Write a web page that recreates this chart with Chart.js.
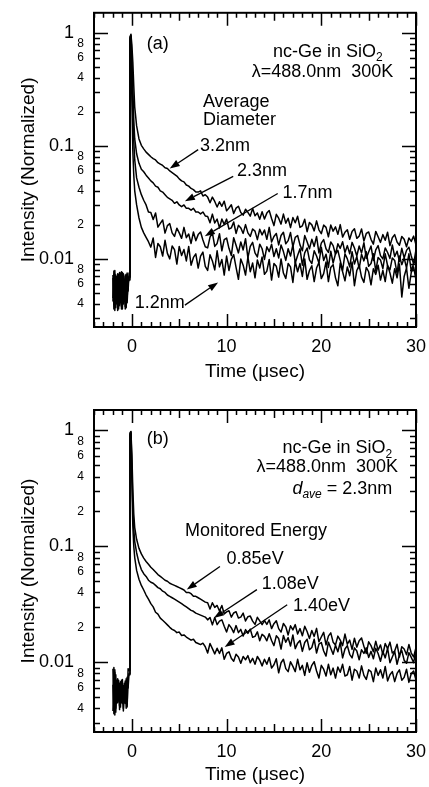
<!DOCTYPE html>
<html>
<head>
<meta charset="utf-8">
<title>nc-Ge in SiO2 PL decay</title>
<script src="https://cdn.jsdelivr.net/npm/chart.js@4.4.1/dist/chart.umd.min.js"></script>
<style>
  html, body { margin: 0; padding: 0; background: #fff; }
  #wrap { position: relative; width: 429px; height: 787px; }
  canvas { position: absolute; left: 0; }
  #chart-a { top: 0; }
  #chart-b { top: 395px; }
</style>
</head>
<body>
<div id="wrap">
  <canvas id="chart-a" width="429" height="395"></canvas>
  <canvas id="chart-b" width="429" height="392"></canvas>
</div>
<script>
// Time-resolved PL of nc-Ge in SiO2: (a) by average diameter, (b) by monitored energy

const FONT = '"Liberation Sans", Arial, Helvetica, sans-serif';

// ---------- data ----------
const TIMES = [
  -2, -1.9, -1.8, -1.7, -1.6, -1.5, -1.4, -1.3, -1.2, -1.1, -1, -0.9, -0.8, -0.7, -0.6, -0.5, -0.4,
  -0.3, -0.2, -0.1, 0, 0.1, 0.2, 0.3, 0.5, 0.75,
  1, 1.25, 1.5, 1.75, 2, 2.25, 2.5, 2.75, 3, 3.25, 3.5, 3.75, 4, 4.25, 4.5, 4.75,
  5, 5.25, 5.5, 5.75, 6, 6.25, 6.5, 6.75, 7, 7.25, 7.5, 7.75, 8, 8.25, 8.5, 8.75,
  9, 9.25, 9.5, 9.75, 10, 10.25, 10.5, 10.75, 11, 11.25, 11.5, 11.75, 12, 12.25, 12.5, 12.75,
  13, 13.25, 13.5, 13.75, 14, 14.25, 14.5, 14.75, 15, 15.25, 15.5, 15.75, 16, 16.25, 16.5, 16.75,
  17, 17.25, 17.5, 17.75, 18, 18.25, 18.5, 18.75, 19, 19.25, 19.5, 19.75, 20, 20.25, 20.5, 20.75,
  21, 21.25, 21.5, 21.75, 22, 22.25, 22.5, 22.75, 23, 23.25, 23.5, 23.75, 24, 24.25, 24.5, 24.75,
  25, 25.25, 25.5, 25.75, 26, 26.25, 26.5, 26.75, 27, 27.25, 27.5, 27.75, 28, 28.25, 28.5, 28.75,
  29, 29.25, 29.5, 29.75, 30
];

// panel (a): average diameter
const DIA_32 = [
  0.0042, 0.0071, 0.0038, 0.0066, 0.0045, 0.0074, 0.0036, 0.0069, 0.0041, 0.0077, 0.0039, 0.0063, 0.0047, 0.0072, 0.0037, 0.0068, 0.0052,
  0.0075, 0.92, 0.97, 0.78, 0.55, 0.34, 0.22, 0.15, 0.115,
  0.101, 0.094, 0.088, 0.084, 0.080, 0.077, 0.075, 0.071, 0.069, 0.067, 0.064, 0.063, 0.060, 0.058, 0.056, 0.054,
  0.051, 0.049, 0.048, 0.045, 0.044, 0.042, 0.041, 0.039, 0.039, 0.040, 0.036, 0.037,
  0.0352, 0.0314, 0.0352, 0.0322, 0.0288, 0.0320, 0.0292, 0.0324, 0.0266, 0.0282, 0.0301, 0.0252,
  0.0281, 0.0292, 0.0257, 0.0244, 0.0275, 0.0258, 0.0239, 0.0279, 0.0241, 0.0255, 0.0224, 0.0261,
  0.0225, 0.0254, 0.0268, 0.0228, 0.0197, 0.0248, 0.0229, 0.0203, 0.0249, 0.0207, 0.0229, 0.0189,
  0.0232, 0.0209, 0.0238, 0.0190, 0.0196, 0.0224, 0.0174, 0.0210, 0.0200, 0.0177, 0.0217, 0.0181,
  0.0167, 0.0199, 0.0190, 0.0157, 0.0199, 0.0176, 0.0192, 0.0165, 0.0201, 0.0156, 0.0172, 0.0181,
  0.0149, 0.0175, 0.0185, 0.0152, 0.0159, 0.0184, 0.0144, 0.0168, 0.0173, 0.0149, 0.0135, 0.0175,
  0.0157, 0.0140, 0.0164, 0.0146, 0.0172, 0.0131, 0.0154, 0.0164, 0.0141, 0.0132, 0.0158, 0.0149,
  0.0128, 0.0153, 0.0143, 0.0159, 0.0133
];
const DIA_23 = [
  0.0068, 0.0040, 0.0073, 0.0037, 0.0070, 0.0043, 0.0065, 0.0039, 0.0075, 0.0036, 0.0070, 0.0044, 0.0066, 0.0038, 0.0073, 0.0041, 0.0062,
  0.0070, 0.90, 0.95, 0.60, 0.33, 0.17, 0.115, 0.085, 0.070,
  0.062, 0.059, 0.055, 0.052, 0.049, 0.047, 0.044, 0.043, 0.040, 0.039, 0.037, 0.035, 0.034, 0.033, 0.031, 0.032,
  0.030, 0.029, 0.030, 0.028, 0.028, 0.027, 0.028, 0.026, 0.026, 0.025, 0.026, 0.024,
  0.0237, 0.0209, 0.0249, 0.0208, 0.0225, 0.0188, 0.0225, 0.0202, 0.0225, 0.0184, 0.0188, 0.0212,
  0.0168, 0.0198, 0.0188, 0.0168, 0.0201, 0.0170, 0.0158, 0.0184, 0.0176, 0.0148, 0.0183, 0.0163,
  0.0180, 0.0149, 0.0190, 0.0141, 0.0158, 0.0168, 0.0133, 0.0161, 0.0172, 0.0136, 0.0145, 0.0171,
  0.0128, 0.0155, 0.0161, 0.0133, 0.0118, 0.0161, 0.0142, 0.0123, 0.0149, 0.0129, 0.0158, 0.0113,
  0.0138, 0.0148, 0.0123, 0.0114, 0.0141, 0.0131, 0.0110, 0.0136, 0.0124, 0.0142, 0.0114, 0.0131,
  0.0111, 0.0140, 0.0125, 0.0106, 0.0130, 0.0113, 0.0139, 0.0101, 0.0115, 0.0130, 0.0097, 0.0120,
  0.0131, 0.0107, 0.0100, 0.0125, 0.0114, 0.0101, 0.0133, 0.0105, 0.0117, 0.0095, 0.0124, 0.0102,
  0.0119, 0.0127, 0.0106, 0.0090, 0.0121
];
const DIA_17 = [
  0.0045, 0.0078, 0.0035, 0.0072, 0.0040, 0.0068, 0.0038, 0.0076, 0.0043, 0.0065, 0.0036, 0.0074, 0.0042, 0.0070, 0.0039, 0.0075, 0.0060,
  0.0068, 0.88, 0.93, 0.45, 0.20, 0.11, 0.075, 0.052, 0.043,
  0.037, 0.033, 0.030, 0.026, 0.0257, 0.0223, 0.0255, 0.0191, 0.0206, 0.0221, 0.0169, 0.0197,
  0.0205, 0.0170, 0.0158, 0.0187, 0.0170, 0.0152, 0.0190, 0.0154, 0.0166, 0.0137, 0.0173, 0.0145,
  0.0164, 0.0173, 0.0147, 0.0128,
  0.0125, 0.0156, 0.0170, 0.0129, 0.0137, 0.0167, 0.0118, 0.0148, 0.0153, 0.0124, 0.0107, 0.0154,
  0.0132, 0.0113, 0.0141, 0.0120, 0.0151, 0.0102, 0.0129, 0.0140, 0.0113, 0.0104, 0.0135, 0.0123,
  0.0099, 0.0128, 0.0116, 0.0135, 0.0105, 0.0123, 0.0102, 0.0133, 0.0116, 0.0097, 0.0123, 0.0106,
  0.0133, 0.0092, 0.0107, 0.0123, 0.0088, 0.0113, 0.0125, 0.0098, 0.0091, 0.0118, 0.0106, 0.0092,
  0.0127, 0.0097, 0.0110, 0.0084, 0.0117, 0.0092, 0.0111, 0.0119, 0.0097, 0.0079, 0.0111, 0.0100,
  0.0085, 0.0116, 0.0090, 0.0105, 0.0082, 0.0110, 0.0096, 0.0116, 0.0086, 0.0091, 0.0111, 0.0078,
  0.0103, 0.0098, 0.0082, 0.0111, 0.0087, 0.0080, 0.0102, 0.0097, 0.0075, 0.0106, 0.0089, 0.0102,
  0.0083, 0.0111, 0.0078, 0.0091, 0.0099
];
const DIA_12 = [
  0.0072, 0.0036, 0.0079, 0.0041, 0.0067, 0.0035, 0.0073, 0.0044, 0.0069, 0.0038, 0.0076, 0.0040, 0.0064, 0.0036, 0.0071, 0.0045, 0.0066,
  0.0065, 0.85, 0.90, 0.25, 0.09, 0.055, 0.040, 0.030, 0.023,
  0.019, 0.017, 0.0155, 0.0142, 0.0127, 0.0153, 0.0103, 0.0137, 0.0128, 0.0106, 0.0146, 0.0112,
  0.0100, 0.0130, 0.0121, 0.0090, 0.0129, 0.0107, 0.0121, 0.0096, 0.0129, 0.0088, 0.0103, 0.0111,
  0.0083, 0.0106, 0.0115, 0.0086,
  0.0079, 0.0109, 0.0096, 0.0080, 0.0118, 0.0085, 0.0099, 0.0072, 0.0106, 0.0079, 0.0099, 0.0109,
  0.0084, 0.0066, 0.0100, 0.0088, 0.0072, 0.0104, 0.0077, 0.0092, 0.0068, 0.0098, 0.0083, 0.0104,
  0.0073, 0.0078, 0.0099, 0.0065, 0.0091, 0.0086, 0.0069, 0.0100, 0.0075, 0.0067, 0.0091, 0.0085,
  0.0062, 0.0095, 0.0077, 0.0091, 0.0070, 0.0100, 0.0066, 0.0079, 0.0087, 0.0063, 0.0083, 0.0093,
  0.0067, 0.0074, 0.0094, 0.0063, 0.0084, 0.0089, 0.0068, 0.0058, 0.0092, 0.0077, 0.0064, 0.0085,
  0.0071, 0.0094, 0.0058, 0.0079, 0.0088, 0.0069, 0.0062, 0.0084, 0.0077, 0.0059, 0.0082, 0.0073,
  0.0088, 0.0065, 0.0079, 0.0063, 0.0088, 0.0075, 0.0061, 0.0082, 0.0068, 0.0090, 0.0046, 0.0070,
  0.0083, 0.0055, 0.0076, 0.0085, 0.0065
];

// panel (b): monitored energy, d_ave = 2.3 nm
const EN_085 = [
  0.0088, 0.0036, 0.0082, 0.0040, 0.0070, 0.0045, 0.0064, 0.0042, 0.0068, 0.0048, 0.0061, 0.0040, 0.0066, 0.0046, 0.0072, 0.0043, 0.0088,
  0.0085, 0.95, 0.98, 0.62, 0.31, 0.19, 0.145, 0.115, 0.096,
  0.086, 0.079, 0.074, 0.070, 0.066, 0.063, 0.060, 0.057, 0.055, 0.053, 0.051, 0.050, 0.048, 0.047, 0.046, 0.045,
  0.044, 0.043, 0.042, 0.040, 0.040, 0.039, 0.037, 0.037, 0.036, 0.035, 0.034, 0.033,
  0.0326, 0.0288, 0.0326, 0.0297, 0.0309, 0.0277, 0.0309, 0.0261, 0.0272, 0.0278, 0.0245, 0.0266,
  0.0273, 0.0241, 0.0245, 0.0265, 0.0227, 0.0247, 0.0250, 0.0226, 0.0212, 0.0244, 0.0227, 0.0211,
  0.0229, 0.0212, 0.0232, 0.0195, 0.0215, 0.0228, 0.0195, 0.0182, 0.0216, 0.0202, 0.0172, 0.0206,
  0.0190, 0.0211, 0.0175, 0.0195, 0.0169, 0.0204, 0.0184, 0.0160, 0.0188, 0.0167, 0.0196, 0.0150,
  0.0165, 0.0181, 0.0141, 0.0168, 0.0179, 0.0149, 0.0141, 0.0168, 0.0155, 0.0139, 0.0175, 0.0143,
  0.0155, 0.0129, 0.0161, 0.0135, 0.0153, 0.0162, 0.0137, 0.0119, 0.0150, 0.0139, 0.0123, 0.0152,
  0.0127, 0.0141, 0.0117, 0.0145, 0.0131, 0.0149, 0.0120, 0.0125, 0.0143, 0.0111, 0.0136, 0.0130,
  0.0116, 0.0142, 0.0120, 0.0111, 0.0134
];
const EN_108 = [
  0.0038, 0.0090, 0.0035, 0.0078, 0.0044, 0.0072, 0.0047, 0.0066, 0.0041, 0.0070, 0.0044, 0.0063, 0.0049, 0.0069, 0.0040, 0.0074, 0.0060,
  0.0080, 0.93, 0.97, 0.50, 0.22, 0.14, 0.11, 0.088, 0.072,
  0.063, 0.058, 0.055, 0.051, 0.049, 0.048, 0.046, 0.044, 0.043, 0.041, 0.040, 0.038, 0.037, 0.036, 0.035, 0.034,
  0.033, 0.032, 0.031, 0.030, 0.029, 0.028, 0.0275, 0.0265, 0.026, 0.0255, 0.025, 0.0245,
  0.0232, 0.0243, 0.0210, 0.0243, 0.0211, 0.0226, 0.0232, 0.0204, 0.0182, 0.0211, 0.0198, 0.0180,
  0.0207, 0.0180, 0.0192, 0.0168, 0.0191, 0.0177, 0.0193, 0.0164, 0.0167, 0.0183, 0.0153, 0.0174,
  0.0167, 0.0153, 0.0176, 0.0154, 0.0139, 0.0169, 0.0160, 0.0130, 0.0170, 0.0149, 0.0163, 0.0138,
  0.0172, 0.0131, 0.0146, 0.0154, 0.0124, 0.0148, 0.0158, 0.0128, 0.0134, 0.0158, 0.0120, 0.0143,
  0.0148, 0.0125, 0.0113, 0.0149, 0.0132, 0.0117, 0.0140, 0.0123, 0.0148, 0.0109, 0.0130, 0.0139,
  0.0117, 0.0109, 0.0133, 0.0125, 0.0105, 0.0128, 0.0119, 0.0133, 0.0110, 0.0124, 0.0107, 0.0132,
  0.0119, 0.0102, 0.0124, 0.0109, 0.0132, 0.0099, 0.0111, 0.0124, 0.0096, 0.0116, 0.0126, 0.0104,
  0.0098, 0.0121, 0.0110, 0.0099, 0.0128
];
const EN_140 = [
  0.0064, 0.0040, 0.0086, 0.0037, 0.0062, 0.0046, 0.0070, 0.0039, 0.0065, 0.0045, 0.0071, 0.0038, 0.0060, 0.0044, 0.0068, 0.0041, 0.0075,
  0.0078, 0.90, 0.95, 0.35, 0.15, 0.10, 0.080, 0.062, 0.052,
  0.046, 0.042, 0.038, 0.035, 0.032, 0.030, 0.027, 0.026, 0.024, 0.023, 0.022, 0.021, 0.020, 0.0192, 0.0188, 0.0180,
  0.0182, 0.0170, 0.0172, 0.0165, 0.0160, 0.0155, 0.0158, 0.0148, 0.0145, 0.0142, 0.0146, 0.0136,
  0.0120, 0.0145, 0.0131, 0.0118, 0.0132, 0.0119, 0.0133, 0.0106, 0.0119, 0.0123, 0.0108, 0.0102,
  0.0117, 0.0111, 0.0098, 0.0112, 0.0105, 0.0114, 0.0099, 0.0108, 0.0096, 0.0112, 0.0104, 0.0093,
  0.0106, 0.0096, 0.0110, 0.0089, 0.0095, 0.0107, 0.0081, 0.0099, 0.0106, 0.0088, 0.0083, 0.0101,
  0.0092, 0.0083, 0.0106, 0.0086, 0.0094, 0.0077, 0.0099, 0.0082, 0.0094, 0.0101, 0.0084, 0.0073,
  0.0094, 0.0087, 0.0076, 0.0096, 0.0078, 0.0089, 0.0073, 0.0091, 0.0082, 0.0096, 0.0076, 0.0078,
  0.0092, 0.0070, 0.0087, 0.0084, 0.0073, 0.0093, 0.0077, 0.0071, 0.0086, 0.0083, 0.0068, 0.0089,
  0.0077, 0.0086, 0.0073, 0.0092, 0.0069, 0.0078, 0.0083, 0.0068, 0.0080, 0.0086, 0.0070, 0.0074,
  0.0087, 0.0067, 0.0080, 0.0084, 0.0070
];

// axis ticks
const X_TICKS = [-4, -3, -2, -1, 0, 1, 2, 3, 4, 5, 6, 7, 8, 9, 10, 11, 12, 13, 14, 15, 16, 17, 18, 19, 20,
  21, 22, 23, 24, 25, 26, 27, 28, 29, 30];
const Y_TICKS = [0.003, 0.004, 0.005, 0.006, 0.007, 0.008, 0.009,
  0.01, 0.02, 0.03, 0.04, 0.05, 0.06, 0.07, 0.08, 0.09,
  0.1, 0.2, 0.3, 0.4, 0.5, 0.6, 0.7, 0.8, 0.9, 1];

// ---------- helpers ----------
const exponent = (v) => Math.floor(Math.log10(v) + 1e-9);
const mantissa = (v) => Math.round(v / Math.pow(10, exponent(v)));
const isDecade = (v) => mantissa(v) === 1;

function yLabel(v) {
  if (isDecade(v)) return String(v) + "  ";
  const m = mantissa(v);
  return m % 2 === 0 ? String(m) : "";
}

// box + inward ticks on all four sides
const framePlugin = {
  id: "frame",
  afterDatasetsDraw(chart) {
    const { ctx, chartArea: a, scales: { x, y } } = chart;
    ctx.save();
    ctx.strokeStyle = "#000";
    ctx.lineWidth = 1.5;
    ctx.beginPath();
    x.ticks.forEach((t) => {
      const px = Math.round(x.getPixelForValue(t.value)) + 0.5;
      const len = t.value % 10 === 0 ? 13 : t.value % 5 === 0 ? 8 : 5;
      ctx.moveTo(px, a.bottom); ctx.lineTo(px, a.bottom - len);
      ctx.moveTo(px, a.top); ctx.lineTo(px, a.top + len);
    });
    y.ticks.forEach((t) => {
      const py = Math.round(y.getPixelForValue(t.value)) + 0.5;
      const len = isDecade(t.value) ? 14 : 6;
      ctx.moveTo(a.left, py); ctx.lineTo(a.left + len, py);
      ctx.moveTo(a.right, py); ctx.lineTo(a.right - len, py);
    });
    ctx.stroke();
    ctx.lineWidth = 2;
    ctx.strokeRect(a.left, a.top, a.right - a.left, a.bottom - a.top);
    ctx.restore();
  }
};

function drawParts(ctx, parts, x, y, align) {
  const fontOf = (p) => `${p.it ? "italic " : ""}${p.sub ? 12 : 18}px ${FONT}`;
  let w = 0;
  parts.forEach((p) => { ctx.font = fontOf(p); w += ctx.measureText(p.t).width; });
  let cx = align === "right" ? x - w : x;
  ctx.textAlign = "left";
  ctx.textBaseline = "middle";
  parts.forEach((p) => {
    ctx.font = fontOf(p);
    ctx.fillText(p.t, cx, y + (p.sub ? 6 : 0));
    cx += ctx.measureText(p.t).width;
  });
}

function drawArrow(ctx, x1, y1, x2, y2) {
  const ang = Math.atan2(y2 - y1, x2 - x1);
  const L = 10, W = 3.5;
  const bx = x2 - L * Math.cos(ang), by = y2 - L * Math.sin(ang);
  ctx.beginPath();
  ctx.moveTo(x1, y1);
  ctx.lineTo(bx, by);
  ctx.lineWidth = 1.3;
  ctx.stroke();
  ctx.beginPath();
  ctx.moveTo(x2, y2);
  ctx.lineTo(bx - W * Math.sin(ang), by + W * Math.cos(ang));
  ctx.lineTo(bx + W * Math.sin(ang), by - W * Math.cos(ang));
  ctx.closePath();
  ctx.fill();
}

// labels and arrows, anchored in data coordinates
function notesPlugin(texts, arrows) {
  return {
    id: "notes",
    afterDraw(chart) {
      const { ctx, scales: { x, y } } = chart;
      ctx.save();
      ctx.fillStyle = "#000";
      ctx.strokeStyle = "#000";
      texts.forEach((n) => {
        drawParts(ctx, n.parts, x.getPixelForValue(n.x), y.getPixelForValue(n.y), n.align);
      });
      arrows.forEach((r) => {
        drawArrow(ctx, x.getPixelForValue(r[0]), y.getPixelForValue(r[1]),
          x.getPixelForValue(r[2]), y.getPixelForValue(r[3]));
      });
      ctx.restore();
    }
  };
}

const plain = (t) => [{ t }];

function makeChart(id, series, geom, texts, arrows) {
  return new Chart(document.getElementById(id), {
    type: "line",
    data: {
      datasets: series.map((vals) => ({
        data: TIMES.map((t, i) => ({ x: t, y: vals[i] })),
        borderColor: "#000",
        borderWidth: 1.5,
        borderJoinStyle: "round",
        pointRadius: 0,
        tension: 0,
        fill: false
      }))
    },
    options: {
      responsive: false,
      animation: false,
      devicePixelRatio: 1,
      layout: { padding: { top: geom.top, right: 13, bottom: 0, left: 0 } },
      plugins: { legend: { display: false }, tooltip: { enabled: false } },
      scales: {
        x: {
          type: "linear", min: -4, max: 30,
          afterBuildTicks: (s) => { s.ticks = X_TICKS.map((v) => ({ value: v })); },
          afterFit: (s) => { s.height = geom.xh; },
          grid: { display: false },
          border: { display: false },
          ticks: {
            autoSkip: false, maxRotation: 0, padding: 1, color: "#000",
            font: { size: 18, family: FONT },
            callback: (v) => (v % 10 === 0 ? String(v) : "")
          },
          title: {
            display: true, text: "Time (μsec)", color: "#000",
            font: { size: 19, family: FONT },
            padding: { top: 0, bottom: geom.titlePad }
          }
        },
        y: {
          type: "logarithmic", min: 0.0025, max: 1.5,
          afterBuildTicks: (s) => { s.ticks = Y_TICKS.map((v) => ({ value: v })); },
          afterFit: (s) => { s.width = 94; },
          grid: { display: false },
          border: { display: false },
          ticks: {
            autoSkip: false, padding: 2, color: "#000",
            font: (c) => ({ size: c.tick && isDecade(c.tick.value) ? 18 : 12, family: FONT }),
            callback: (v) => yLabel(v)
          },
          title: {
            display: true, text: "Intensity (Normalized)", color: "#000",
            font: { size: 19, family: FONT },
            padding: { top: 17, bottom: 0 }
          }
        }
      }
    },
    plugins: [framePlugin, notesPlugin(texts, arrows)]
  });
}

// ---------- panel (a) ----------
makeChart("chart-a", [DIA_32, DIA_23, DIA_17, DIA_12], { top: 10, xh: 68, titlePad: 12 }, [
  { parts: plain("(a)"), x: 1.58, y: 0.80 },
  { parts: [{ t: "nc-Ge in SiO" }, { t: "2", sub: true }], x: 14.9, y: 0.68 },
  { parts: plain("λ=488.0nm  300K"), x: 27.6, y: 0.446, align: "right" },
  { parts: plain("Average"), x: 7.5, y: 0.243 },
  { parts: plain("Diameter"), x: 7.5, y: 0.169 },
  { parts: plain("3.2nm"), x: 7.2, y: 0.1 },
  { parts: plain("2.3nm"), x: 11.1, y: 0.0604 },
  { parts: plain("1.7nm"), x: 15.9, y: 0.0379 },
  { parts: plain("1.2nm"), x: 0.3, y: 0.00411 }
], [
  [7.0, 0.0925, 4.0, 0.063],
  [10.7, 0.0537, 5.6, 0.0324],
  [15.4, 0.0379, 7.7, 0.0159],
  [5.6, 0.0039, 9.1, 0.0062]
]);

// ---------- panel (b) ----------
makeChart("chart-b", [EN_085, EN_108, EN_140], { top: 15, xh: 55, titlePad: 1 }, [
  { parts: plain("(b)"), x: 1.58, y: 0.84 },
  { parts: [{ t: "nc-Ge in SiO" }, { t: "2", sub: true }], x: 15.9, y: 0.70 },
  { parts: plain("λ=488.0nm  300K"), x: 28.1, y: 0.48, align: "right" },
  { parts: [{ t: "d", it: true }, { t: "ave", it: true, sub: true }, { t: " = 2.3nm" }], x: 27.5, y: 0.313, align: "right" },
  { parts: plain("Monitored Energy"), x: 5.6, y: 0.136 },
  { parts: plain("0.85eV"), x: 10.0, y: 0.077 },
  { parts: plain("1.08eV"), x: 13.7, y: 0.0472 },
  { parts: plain("1.40eV"), x: 17.0, y: 0.0307 }
], [
  [9.3, 0.067, 5.8, 0.0423],
  [13.2, 0.0423, 8.66, 0.0241],
  [16.4, 0.0313, 9.8, 0.0135]
]);
</script>
</body>
</html>
